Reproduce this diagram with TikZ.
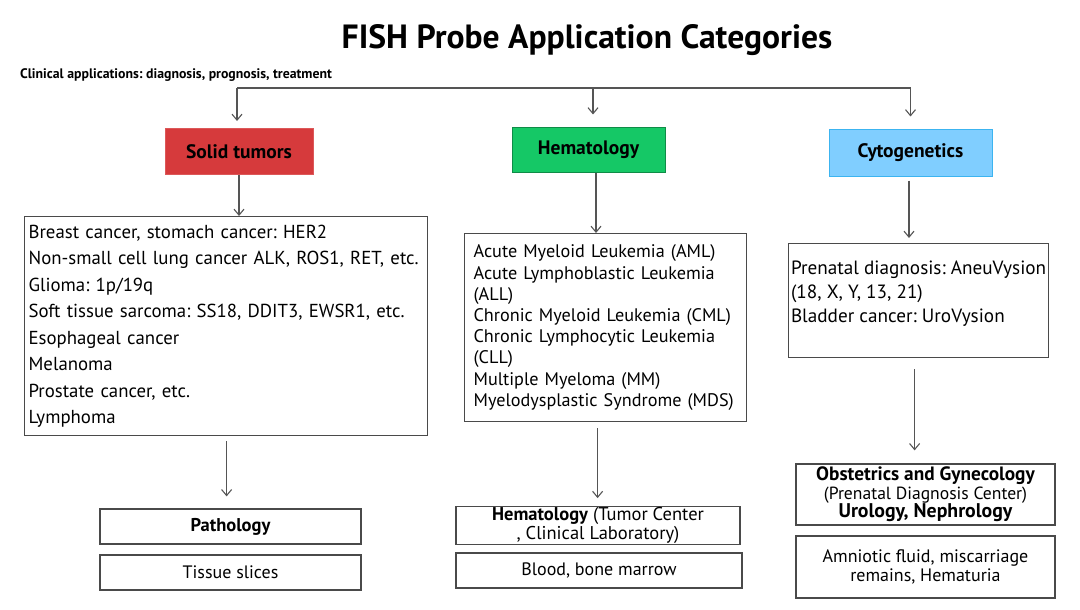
\documentclass[tikz,border=0pt]{standalone}
\usepackage{fontspec}
\setmainfont{PT Sans}
\usetikzlibrary{calc}
\usetikzlibrary{arrows.meta}

\definecolor{tumorred}{HTML}{D63A3C}
\definecolor{hemagreen}{HTML}{15C866}
\definecolor{cytoblue}{HTML}{80CEFF}
\definecolor{cytoedge}{HTML}{3CB4F0}
\definecolor{boxgray}{HTML}{4A4A4A}
\definecolor{linegray}{HTML}{555555}

\frenchspacing

\begin{document}
\begin{tikzpicture}[x=1pt, y=-1pt,
	headbox/.style={rectangle, draw, line width=1pt, minimum height=46pt, font=\bfseries\fontsize{19.5}{22}\selectfont},
	listbox/.style={rectangle, draw=boxgray, line width=1.2pt, align=left, inner xsep=1pt, inner ysep=4pt, anchor=north west},
	deptbox/.style={rectangle, draw=boxgray, line width=1.2pt, align=center, inner sep=1pt, font=\fontsize{18}{19}\selectfont},
	link/.style={draw=linegray, line width=1.1pt},
	arr/.style={link, -{Straight Barb[length=6pt,width=10pt]}}]

		\useasboundingbox (0,0) rectangle (1080,610);

		\node[font=\bfseries\fontsize{33.6}{38}\selectfont] (title) at (587,40) {FISH Probe Application Categories};
		\node[anchor=west, inner sep=0pt, font=\bfseries\fontsize{13.8}{15}\selectfont] (clinic) at (20,75) {Clinical applications: diagnosis, prognosis, treatment};

		\node[headbox, fill=tumorred, draw=tumorred!85!white, minimum width=148pt] (solid) at (239,151.5) {Solid tumors};
		\node[headbox, fill=hemagreen, draw=hemagreen!70!black, minimum width=153pt, minimum height=45pt] (hema) at (588.5,149.5) {Hematology};
		\node[headbox, fill=cytoblue, draw=cytoedge, minimum width=163pt, minimum height=47pt] (cyto) at (910.5,152.5) {Cytogenetics};

		\node[listbox, inner xsep=4pt, text width=395pt, minimum height=219pt, font=\fontsize{18.8}{26.5}\selectfont] (solidlist) at (24,216) {Breast cancer, stomach cancer: HER2\\Non-small cell lung cancer ALK, ROS1, RET, etc.\\Glioma: 1p/19q\\Soft tissue sarcoma: SS18, DDIT3, EWSR1, etc.\\Esophageal cancer\\Melanoma\\Prostate cancer, etc.\\Lymphoma};
		\node[listbox, inner xsep=9pt, text width=264pt, minimum height=188pt, font=\fontsize{18.2}{21.2}\selectfont] (hemalist) at (464,233) {Acute Myeloid Leukemia (AML)\\Acute Lymphoblastic Leukemia\\(ALL)\\Chronic Myeloid Leukemia (CML)\\Chronic Lymphocytic Leukemia\\(CLL)\\Multiple Myeloma (MM)\\Myelodysplastic Syndrome (MDS)};
		\node[listbox, inner xsep=0.5pt, minimum width=260pt, minimum height=114pt, font=\fontsize{19.2}{24}\selectfont] (cytolist) at (788,243) {Prenatal diagnosis: AneuVysion\\(18, X, Y, 13, 21)\\Bladder cancer: UroVysion\\[-6pt] \mbox{}};

		\node[deptbox, minimum width=261pt, minimum height=35pt, font=\bfseries\fontsize{18.5}{19}\selectfont] (patho) at (230.5,526.5) {Pathology};
		\node[deptbox, minimum width=261pt, minimum height=35pt] (tissue) at (230.5,572.5) {Tissue slices};
		\node[deptbox, minimum width=284pt, minimum height=35pt, font=\fontsize{18.5}{16}\selectfont] (hemadept) at (598,525.5) {\textbf{Hematology} (Tumor Center\\, Clinical Laboratory)};
		\node[deptbox, minimum width=286pt, minimum height=35pt] (blood) at (599,570.5) {Blood, bone marrow};
		\node[deptbox, minimum width=259pt, minimum height=61pt, font=\fontsize{17.6}{18.5}\selectfont] (obst) at (925.5,494.5) {{\bfseries\fontsize{19.3}{18.5}\selectfont Obstetrics and Gynecology}\\(Prenatal Diagnosis Center)\\{\bfseries\fontsize{19.8}{18.5}\selectfont Urology, Nephrology}};
		\node[deptbox, minimum width=259pt, minimum height=62pt, font=\fontsize{18}{19}\selectfont] (amnio) at (925.5,567) {Amniotic fluid, miscarriage\\remains, Hematuria};

		\coordinate (bus) at (237,88);
		\draw[link] (bus) -- (cyto.north |- bus);
		\draw[arr, shorten >=7pt] (bus) -- (bus |- solid.north);
		\draw[arr, shorten >=12pt] ($(hema.north |- bus)+(4.5,0)$) -- ($(hema.north)+(4.5,0)$);
		\draw[arr, shorten >=12pt] (cyto.north |- bus) -- (cyto.north);

		\draw[arr] (solid.south) -- (solid.south |- solidlist.north);
		\draw[arr] ($(hema.south)+(7.5,0)$) -- ($(hema.south |- hemalist.north)+(7.5,0)$);
		\draw[arr, shorten <=4pt, shorten >=5pt] ($(cyto.south)+(-1.5,0)$) -- ($(cyto.south |- cytolist.north)+(-1.5,0)$);

		\draw[arr, shorten <=5pt, shorten >=12pt] ($(solidlist.south)+(0.5,0)$) -- ($(solidlist.south |- patho.north)+(0.5,0)$);
		\draw[arr, shorten <=6pt, shorten >=8pt] ($(hemalist.south)+(-8,0)$) -- ($(hemalist.south |- hemadept.north)+(-8,0)$);
		\draw[arr, shorten <=11pt, shorten >=13pt] ($(cytolist.south)+(-4,0)$) -- ($(cytolist.south |- obst.north)+(-4,0)$);
    \end{tikzpicture}
\end{document}
